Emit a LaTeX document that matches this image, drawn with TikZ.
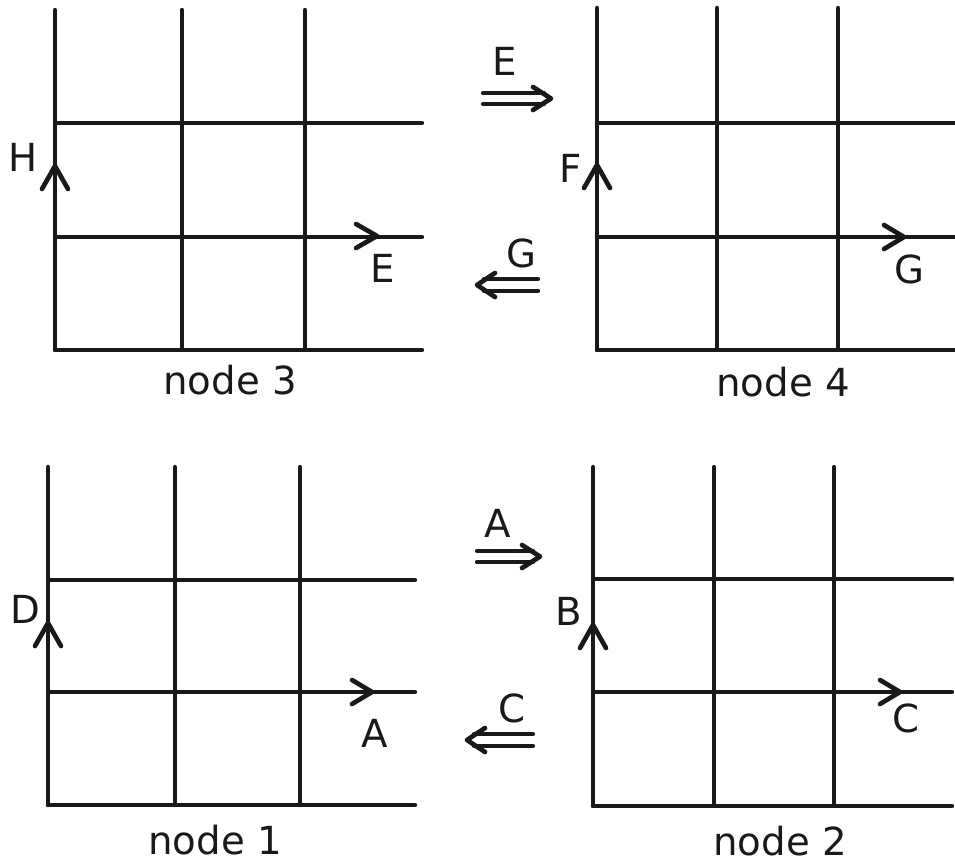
\documentclass[tikz,border=0pt]{standalone}
\usepackage{fontspec}
\setmainfont{DejaVu Sans}
\begin{document}
\begin{tikzpicture}[x=0.75pt,y=-0.75pt,
  gridline/.style={line width=3.3pt, line cap=round, black!90},
  chev/.style={line width=3.5pt, line cap=round, line join=round, black!90},
  lbl/.style={font=\fontsize{29}{34}\selectfont, inner sep=0pt, text=black!90}]
\useasboundingbox (0,0) rectangle (955,865);
% ---------- node 3 (top left)
\foreach \x in {55,182,305} \draw[gridline] (\x,10) -- (\x,350);
\foreach \y in {123,237,350} \draw[gridline] (55,\y) -- (422,\y);
\draw[chev] (42,189) -- (55,166) -- (68,189);
\draw[chev] (356,224) -- (377,236) -- (356,248);
\node[lbl] (h3) at (23,157) {H};
\node[lbl] (e3) at (383,268) {E};
\node[lbl] (n3) at (230,380) {node 3};
% ---------- node 4 (top right)
\foreach \x in {597,717,838} \draw[gridline] (\x,8) -- (\x,350);
\foreach \y in {123,237,350} \draw[gridline] (597,\y) -- (955,\y);
\draw[chev] (584,188) -- (597,165) -- (610,188);
\draw[chev] (884,225) -- (904,237) -- (884,249);
\node[lbl] (f4) at (571,168) {F};
\node[lbl] (g4) at (909,269) {G};
\node[lbl] (n4) at (783,382) {node 4};
% ---------- node 1 (bottom left)
\foreach \x in {48,175,300} \draw[gridline] (\x,467) -- (\x,805);
\foreach \y in {580,692,805} \draw[gridline] (48,\y) -- (415,\y);
\draw[chev] (35,646) -- (48,623) -- (61,646);
\draw[chev] (352,680) -- (372,692) -- (352,704);
\node[lbl] (d1) at (25,609) {D};
\node[lbl] (a1) at (375,733) {A};
\node[lbl] (n1) at (215,840) {node 1};
% ---------- node 2 (bottom right)
\foreach \x in {593,714,834} \draw[gridline] (\x,467) -- (\x,806);
\foreach \y in {579,692,806} \draw[gridline] (593,\y) -- (952,\y);
\draw[chev] (580,648) -- (593,625) -- (606,648);
\draw[chev] (880,680) -- (900,692) -- (880,704);
\node[lbl] (b2) at (569,611) {B};
\node[lbl] (c2) at (906,718) {C};
\node[lbl] (n2) at (780,841) {node 2};
% ---------- transfer arrows
\node[lbl] (eT) at (505,61) {E};
\draw[gridline] (483,93) -- (544,93);
\draw[gridline] (483,104) -- (544,104);
\draw[chev] (533,87) -- (551,98.5) -- (533,110);
\node[lbl] (gT) at (521,253) {G};
\draw[gridline] (538,279) -- (484,279);
\draw[gridline] (538,291) -- (484,291);
\draw[chev] (495,273) -- (477,285) -- (495,297);
\node[lbl] (aT) at (498,523) {A};
\draw[gridline] (477,551) -- (533,551);
\draw[gridline] (477,562) -- (533,562);
\draw[chev] (522,545) -- (540,556.5) -- (522,568);
\node[lbl] (cT) at (512,708) {C};
\draw[gridline] (533,734) -- (474,734);
\draw[gridline] (533,746) -- (474,746);
\draw[chev] (485,728) -- (467,740) -- (485,752);
\end{tikzpicture}
\end{document}
